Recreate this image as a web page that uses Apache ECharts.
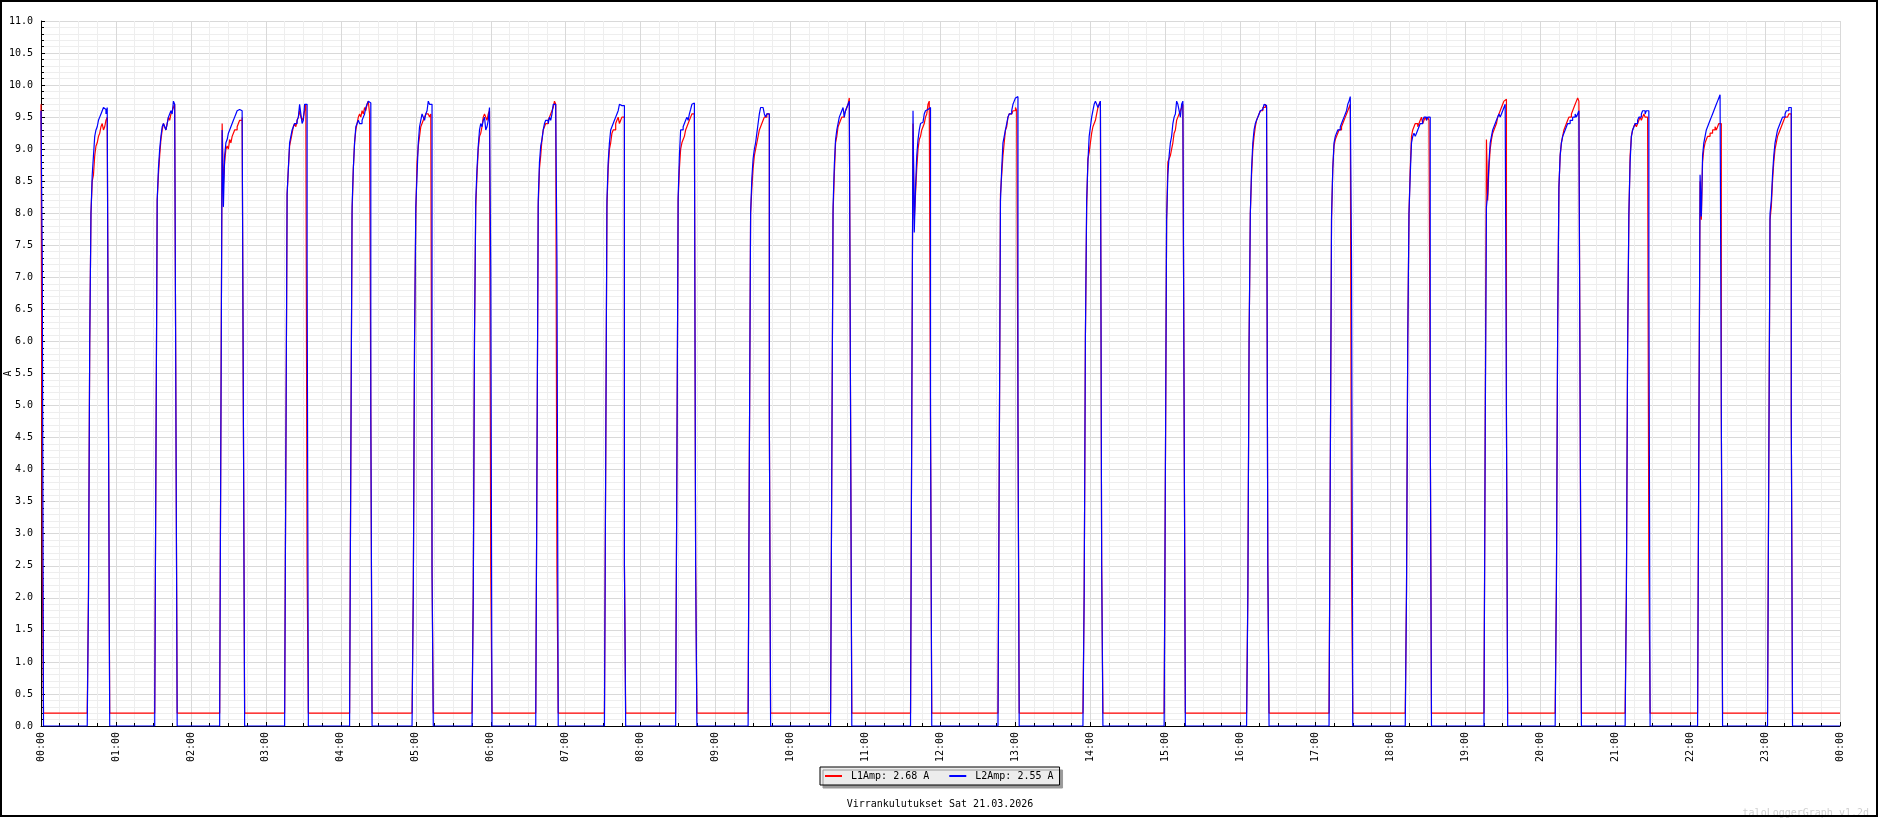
<!DOCTYPE html>
<html>
<head>
<meta charset="utf-8">
<script src="https://cdn.jsdelivr.net/npm/echarts@6/dist/echarts.min.js"></script>
<style>
html,body{margin:0;padding:0;background:#fff;}
#c{width:1880px;height:818px;}
</style>
</head>
<body>
<div id="c"></div>
<script>
// ---- data (minutes from 00:00, amps) ----
const seriesNames = ['L1Amp', 'L2Amp'];
const legendValues = ['2.68 A', '2.55 A'];
const chartTitle = 'Virrankulutukset Sat 21.03.2026';
const watermark = 'taloLoggerGraph v1.2d';
const l1Off = 0.2;
const l2Off = 0.0;
// start minute of each heating cycle; values are per-minute samples from that start
const cycleStarts = [0, 38, 92, 144, 196, 248, 298, 346, 397, 452, 509, 567, 633, 697, 767, 835, 900, 966, 1032, 1093, 1156, 1213, 1269, 1327, 1383];
const l1Cycles = [
  [9.7, 2.55],
  [2.05, 6.0, 8.0, 8.5, 8.6, 8.9, 9.05, 9.1, 9.2, 9.25, 9.35, 9.4, 9.3, 9.35, 9.45, 9.5, 4.85],
  [4.15, 8.2, 8.6, 8.9, 9.15, 9.3, 9.4, 9.35, 9.3, 9.4, 9.5, 9.45, 9.55, 9.6, 9.65, 9.7, 4.85],
  [4.75, 9.4, 8.45, 8.8, 9.0, 9.05, 9.0, 9.15, 9.1, 9.2, 9.25, 9.3, 9.3, 9.35, 9.4, 9.45, 9.45, 9.5, 4.85],
  [4.2, 8.3, 8.7, 9.05, 9.15, 9.25, 9.35, 9.4, 9.35, 9.45, 9.5, 9.6, 9.5, 9.45, 9.5, 9.6, 9.7, 2.45],
  [4.2, 8.0, 8.7, 9.1, 9.3, 9.4, 9.5, 9.55, 9.5, 9.6, 9.55, 9.65, 9.6, 9.7, 9.75, 9.55, 4.9],
  [2.1, 6.0, 8.0, 8.8, 9.05, 9.2, 9.35, 9.4, 9.45, 9.5, 9.55, 9.55, 9.55, 9.5, 9.55, 2.5],
  [2.0, 6.1, 8.1, 8.6, 9.0, 9.2, 9.25, 9.35, 9.5, 9.55, 9.5, 9.45, 9.55, 9.6, 2.45],
  [4.15, 8.1, 8.7, 8.9, 9.15, 9.3, 9.35, 9.4, 9.4, 9.45, 9.5, 9.55, 9.6, 9.65, 9.75, 9.7, 2.4],
  [4.1, 8.1, 8.7, 9.0, 9.1, 9.25, 9.3, 9.3, 9.4, 9.45, 9.5, 9.4, 9.45, 9.5, 9.5, 2.5],
  [4.1, 8.2, 8.7, 9.0, 9.1, 9.15, 9.2, 9.3, 9.35, 9.4, 9.45, 9.5, 9.55, 9.55, 9.5, 2.55],
  [4.2, 8.0, 8.4, 8.7, 8.9, 9.0, 9.1, 9.2, 9.3, 9.35, 9.4, 9.45, 9.5, 9.5, 9.55, 9.55, 4.8],
  [4.1, 8.0, 8.6, 9.1, 9.2, 9.35, 9.4, 9.45, 9.5, 9.5, 9.55, 9.6, 9.65, 9.7, 9.8, 5.0],
  [4.85, 9.4, 7.9, 8.3, 8.7, 9.0, 9.15, 9.2, 9.3, 9.35, 9.4, 9.5, 9.55, 9.7, 9.75, 4.85],
  [4.0, 8.3, 8.6, 8.9, 9.1, 9.3, 9.35, 9.5, 9.55, 9.55, 9.55, 9.6, 9.6, 9.65, 9.6, 4.9],
  [2.05, 6.1, 8.1, 8.85, 8.95, 9.1, 9.25, 9.35, 9.4, 9.45, 9.55, 9.65, 9.7, 9.75, 2.55],
  [3.9, 7.9, 8.8, 8.85, 8.9, 9.0, 9.1, 9.25, 9.3, 9.45, 9.5, 9.55, 9.6, 9.65, 9.7, 5.0],
  [2.05, 6.0, 8.0, 8.6, 9.0, 9.2, 9.35, 9.45, 9.5, 9.55, 9.6, 9.6, 9.65, 9.65, 9.7, 9.65, 2.5],
  [3.95, 7.9, 8.7, 9.05, 9.15, 9.2, 9.25, 9.3, 9.3, 9.35, 9.4, 9.45, 9.5, 9.55, 9.6, 9.65, 9.7, 2.5],
  [2.1, 6.0, 8.0, 8.7, 9.2, 9.3, 9.35, 9.4, 9.4, 9.35, 9.4, 9.45, 9.5, 9.4, 9.45, 9.5, 9.45, 9.5, 9.45, 4.85],
  [4.6, 9.15, 8.2, 8.7, 9.0, 9.15, 9.25, 9.3, 9.35, 9.4, 9.5, 9.55, 9.6, 9.65, 9.7, 9.75, 9.78, 4.85],
  [2.2, 6.2, 8.4, 8.9, 9.1, 9.2, 9.3, 9.35, 9.4, 9.45, 9.5, 9.5, 9.55, 9.6, 9.65, 9.7, 9.75, 9.8, 9.75, 5.0],
  [2.1, 5.95, 7.95, 8.9, 9.2, 9.3, 9.35, 9.4, 9.35, 9.4, 9.45, 9.5, 9.45, 9.5, 9.55, 9.5, 9.5, 9.45, 2.45],
  [4.35, 8.5, 7.9, 8.8, 9.0, 9.1, 9.15, 9.2, 9.2, 9.25, 9.25, 9.3, 9.3, 9.35, 9.3, 9.35, 9.4, 9.4, 4.9],
  [4.1, 7.9, 8.1, 8.5, 8.8, 9.0, 9.1, 9.2, 9.25, 9.3, 9.35, 9.4, 9.45, 9.5, 9.5, 9.5, 9.55, 9.55, 4.85]
];
const l2Cycles = [
  [9.6, 7.3],
  [2.0, 6.0, 8.0, 8.6, 8.9, 9.2, 9.3, 9.35, 9.45, 9.5, 9.55, 9.6, 9.65, 9.62, 9.55, 9.65, 4.85],
  [4.2, 8.2, 8.7, 9.0, 9.2, 9.35, 9.4, 9.35, 9.3, 9.4, 9.5, 9.55, 9.6, 9.55, 9.75, 9.7, 4.85],
  [4.7, 9.3, 8.1, 8.9, 9.1, 9.15, 9.25, 9.3, 9.35, 9.4, 9.45, 9.5, 9.55, 9.6, 9.62, 9.62, 9.6, 9.62, 4.85],
  [4.2, 8.3, 8.7, 9.1, 9.2, 9.3, 9.35, 9.4, 9.4, 9.45, 9.5, 9.7, 9.55, 9.4, 9.45, 9.7, 9.7, 7.25],
  [4.2, 8.1, 8.7, 9.1, 9.35, 9.4, 9.45, 9.4, 9.4, 9.45, 9.5, 9.55, 9.65, 9.7, 9.75, 9.72, 4.9],
  [2.1, 6.0, 8.1, 8.6, 9.1, 9.35, 9.45, 9.55, 9.5, 9.45, 9.55, 9.6, 9.75, 9.7, 9.7, 2.4],
  [2.05, 6.1, 8.2, 8.7, 9.05, 9.3, 9.4, 9.35, 9.45, 9.5, 9.3, 9.35, 9.45, 9.65, 7.1],
  [4.1, 8.2, 8.8, 9.05, 9.15, 9.3, 9.4, 9.45, 9.45, 9.4, 9.5, 9.45, 9.55, 9.7, 9.7, 9.65, 7.25],
  [4.05, 8.2, 8.8, 9.1, 9.3, 9.35, 9.4, 9.45, 9.5, 9.55, 9.6, 9.7, 9.68, 9.65, 9.68, 2.5],
  [4.1, 8.25, 8.9, 9.3, 9.3, 9.35, 9.4, 9.45, 9.5, 9.45, 9.55, 9.62, 9.7, 9.72, 9.65, 2.5],
  [4.2, 8.0, 8.55, 8.85, 9.0, 9.1, 9.25, 9.4, 9.55, 9.65, 9.65, 9.65, 9.55, 9.5, 9.55, 9.55, 4.8],
  [4.1, 8.1, 8.75, 9.15, 9.3, 9.4, 9.5, 9.55, 9.6, 9.65, 9.5, 9.6, 9.65, 9.7, 9.75, 4.9],
  [4.8, 9.6, 7.7, 8.4, 8.9, 9.15, 9.3, 9.4, 9.42, 9.45, 9.55, 9.6, 9.62, 9.6, 9.65, 4.85],
  [4.0, 8.2, 8.7, 9.1, 9.2, 9.3, 9.4, 9.5, 9.55, 9.55, 9.6, 9.7, 9.75, 9.8, 9.82, 4.85],
  [2.05, 6.1, 8.2, 8.8, 9.2, 9.35, 9.5, 9.6, 9.7, 9.75, 9.7, 9.65, 9.7, 9.75, 2.5],
  [3.95, 7.9, 8.6, 8.9, 9.1, 9.2, 9.4, 9.5, 9.55, 9.75, 9.7, 9.6, 9.5, 9.7, 9.75, 4.9],
  [2.0, 6.0, 8.0, 8.7, 9.1, 9.3, 9.4, 9.45, 9.5, 9.55, 9.6, 9.62, 9.65, 9.7, 9.68, 9.7, 2.5],
  [4.0, 7.95, 8.7, 9.1, 9.2, 9.25, 9.3, 9.3, 9.35, 9.4, 9.45, 9.5, 9.55, 9.6, 9.7, 9.75, 9.82, 7.25],
  [2.05, 6.0, 8.0, 8.6, 9.1, 9.2, 9.25, 9.2, 9.25, 9.3, 9.35, 9.4, 9.4, 9.45, 9.5, 9.5, 9.45, 9.5, 9.5, 4.85],
  [4.5, 8.1, 8.3, 8.8, 9.1, 9.2, 9.3, 9.35, 9.4, 9.45, 9.5, 9.55, 9.5, 9.55, 9.6, 9.65, 9.7, 4.85],
  [2.15, 6.2, 8.4, 8.9, 9.1, 9.2, 9.25, 9.3, 9.35, 9.4, 9.4, 9.45, 9.45, 9.5, 9.5, 9.55, 9.5, 9.55, 9.6, 5.0],
  [2.0, 5.9, 8.0, 8.8, 9.2, 9.3, 9.35, 9.4, 9.4, 9.45, 9.5, 9.5, 9.55, 9.6, 9.6, 9.55, 9.6, 9.6, 7.2],
  [4.35, 8.6, 7.95, 8.9, 9.1, 9.2, 9.3, 9.35, 9.4, 9.45, 9.5, 9.55, 9.6, 9.65, 9.7, 9.75, 9.8, 9.85, 4.9],
  [4.1, 8.0, 8.2, 8.6, 8.9, 9.1, 9.2, 9.3, 9.35, 9.4, 9.45, 9.5, 9.5, 9.55, 9.6, 9.6, 9.65, 9.65, 4.85]
];
const dayMinutes = 1440;

function buildSeries(cycles, offValue) {
  const pts = [];
  for (let i = 0; i < cycleStarts.length; i++) {
    const s = cycleStarts[i];
    const vals = cycles[i];
    if (s > 0) pts.push([s - 1, offValue]);
    vals.forEach((v, j) => pts.push([s + j, v]));
    pts.push([s + vals.length, offValue]);
  }
  pts.push([dayMinutes, offValue]);
  return pts;
}

const FONT = 'DejaVu Sans Mono';
const chart = echarts.init(document.getElementById('c'), null, {renderer: 'canvas'});
const pad = n => (n < 10 ? '0' : '') + n;

chart.setOption({
  animation: false,
  backgroundColor: '#ffffff',
  textStyle: {fontFamily: FONT},
  title: [
    {text: chartTitle, left: 'center', top: 794,
     textStyle: {fontFamily: FONT, fontSize: 10, fontWeight: 'normal', color: '#000'}},
    {text: watermark, right: 6, top: 803,
     textStyle: {fontFamily: FONT, fontSize: 10, fontWeight: 'normal', color: '#d0d0d0'}}
  ],
  legend: {
    left: 820, top: 767,
    icon: 'rect', itemWidth: 17, itemHeight: 2, itemGap: 20,
    padding: [4, 6, 4, 5],
    backgroundColor: '#ececec', borderColor: '#000', borderWidth: 1,
    shadowColor: '#9a9a9a', shadowBlur: 0, shadowOffsetX: 3, shadowOffsetY: 3,
    textStyle: {fontFamily: FONT, fontSize: 10, color: '#000', padding: [0, 0, 0, 4]},
    formatter: name => name + ': ' + legendValues[seriesNames.indexOf(name)],
    data: seriesNames
  },
  graphic: [{
    type: 'rect', silent: true, z: 100,
    shape: {x: 1, y: 1, width: 1876, height: 815},
    style: {fill: 'none', stroke: '#000', lineWidth: 2}
  }],
  grid: {left: 41, right: 40, top: 21, bottom: 92, containLabel: false, outerBoundsMode: 'none'},
  xAxis: {
    type: 'value', min: 0, max: dayMinutes, interval: 60,
    axisLine: {show: true, onZero: false, lineStyle: {color: '#000', width: 1}},
    axisTick: {show: true, inside: true, length: 4, lineStyle: {color: '#000'}},
    minorTick: {show: true, splitNumber: 4, length: 3, lineStyle: {color: '#000'}},
    splitLine: {show: true, lineStyle: {color: '#d9d9d9', width: 1}},
    minorSplitLine: {show: true, lineStyle: {color: '#eeeeee', width: 1}},
    axisLabel: {
      rotate: 90, margin: 6, fontFamily: FONT, fontSize: 10, color: '#000',
      formatter: v => pad(Math.round(v / 60) % 24) + ':00'
    }
  },
  yAxis: {
    type: 'value', min: 0, max: 11, interval: 0.5,
    name: 'A', nameLocation: 'middle', nameRotate: 90, nameGap: 28, nameMoveOverlap: false,
    nameTextStyle: {fontFamily: FONT, fontSize: 10, color: '#000'},
    axisLine: {show: true, lineStyle: {color: '#000', width: 1}},
    axisTick: {show: true, inside: true, length: 4, lineStyle: {color: '#000'}},
    minorTick: {show: true, splitNumber: 5, length: 3, lineStyle: {color: '#000'}},
    splitLine: {show: true, lineStyle: {color: '#d9d9d9', width: 1}},
    minorSplitLine: {show: true, lineStyle: {color: '#eeeeee', width: 1}},
    axisLabel: {
      margin: 8, fontFamily: FONT, fontSize: 10, color: '#000',
      formatter: v => v.toFixed(1)
    }
  },
  series: [
    {name: seriesNames[0], type: 'line', step: 'end', data: buildSeries(l1Cycles, l1Off),
     showSymbol: false, symbol: 'none', sampling: null,
     lineStyle: {color: '#ff0000', width: 1.2}, itemStyle: {color: '#ff0000'}},
    {name: seriesNames[1], type: 'line', step: 'end', data: buildSeries(l2Cycles, l2Off),
     showSymbol: false, symbol: 'none', sampling: null,
     lineStyle: {color: '#0000ff', width: 1.2}, itemStyle: {color: '#0000ff'}}
  ]
});
</script>
</body>
</html>
